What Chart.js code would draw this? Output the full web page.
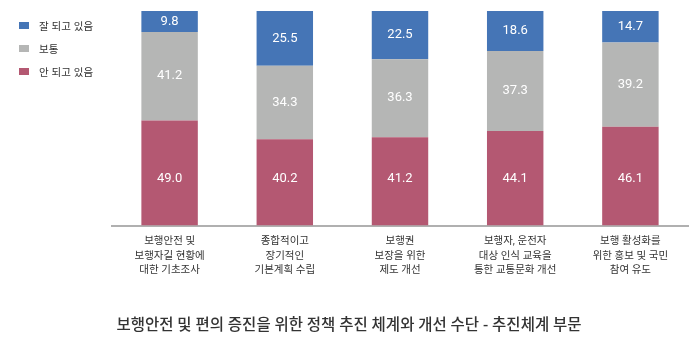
<!DOCTYPE html>
<html lang="ko">
<head>
<meta charset="utf-8">
<script src="https://cdn.jsdelivr.net/npm/chart.js@4.4.1/dist/chart.umd.min.js"></script>
<style>
  html, body { margin: 0; padding: 0; background: #fff; }
  #wrap { position: relative; width: 700px; height: 348px; }
  #legend { position: absolute; left: 19px; top: 14px; margin: 0; padding: 0; list-style: none;
            font: 10.5px "Noto Sans CJK KR", sans-serif; color: #333; }
  #legend li { display: flex; align-items: center; height: 23px; }
  #legend span { display: inline-block; width: 10px; height: 7px; margin-right: 10px; }
</style>
</head>
<body>
<div id="wrap">
  <canvas id="chart" width="700" height="348"></canvas>
  <ul id="legend"></ul>
</div>
<script>
const categories = [
  ["보행안전 및", "보행자길 현황에", "대한 기초조사"],
  ["종합적이고", "장기적인", "기본계획 수립"],
  ["보행권", "보장을 위한", "제도 개선"],
  ["보행자, 운전자", "대상 인식 교육을", "통한 교통문화 개선"],
  ["보행 활성화를", "위한 홍보 및 국민", "참여 유도"],
]
const goingWell = [9.8, 25.5, 22.5, 18.6, 14.7]
const neutral = [41.2, 34.3, 36.3, 37.3, 39.2]
const notGoingWell = [49.0, 40.2, 41.2, 44.1, 46.1]
const chartTitle = "보행안전 및 편의 증진을 위한 정책 추진 체계와 개선 수단 - 추진체계 부문"

const fontFamily = "Roboto, 'Noto Sans CJK KR', sans-serif"

// white numbers on every stacked segment; the bottom row sits at one height
const segmentLabels = {
  id: "segmentLabels",
  afterDatasetsDraw(chart) {
    const ctx = chart.ctx
    ctx.save()
    ctx.fillStyle = "#fff"
    ctx.font = "13px " + fontFamily
    ctx.textAlign = "center"
    ctx.textBaseline = "middle"
    chart.data.datasets.forEach((ds, i) => {
      chart.getDatasetMeta(i).data.forEach((bar, j) => {
        const y = i === 0 ? bar.base - 47 : (bar.y + bar.base) / 2
        ctx.fillText(ds.data[j].toFixed(1), bar.x, y)
      })
    })
    ctx.restore()
  },
}

const chart = new Chart(document.getElementById("chart"), {
  type: "bar",
  data: {
    labels: categories,
    datasets: [
      { label: "안 되고 있음", data: notGoingWell, backgroundColor: "#b45872" },
      { label: "보통", data: neutral, backgroundColor: "#b5b6b5" },
      { label: "잘 되고 있음", data: goingWell, backgroundColor: "#4575b6" },
    ],
  },
  options: {
    responsive: false,
    animation: false,
    devicePixelRatio: 1,
    datasets: { bar: { categoryPercentage: 1, barPercentage: 0.49 } },
    layout: { padding: { left: 10, right: 12, top: 11, bottom: 0 } },
    plugins: {
      legend: { display: false },
      tooltip: { enabled: false },
      title: {
        display: true,
        position: "bottom",
        text: chartTitle,
        color: "#333",
        font: { family: fontFamily, size: 15.5, weight: "500" },
        padding: { top: 30, bottom: 13 },
      },
    },
    scales: {
      x: {
        stacked: true,
        grid: { display: false, drawTicks: false },
        border: { color: "#b0b0b0", width: 2 },
        ticks: {
          color: "#333",
          font: { family: fontFamily, size: 10.5, lineHeight: 1.36 },
          padding: 9,
          maxRotation: 0,
          autoSkip: false,
        },
      },
      y: {
        stacked: true,
        min: 0,
        max: 100,
        grid: { display: false },
        border: { display: false },
        ticks: { display: false },
        // empty strip left of the bars, where the legend sits
        afterFit(scale) { scale.width = 102 },
      },
    },
  },
  plugins: [segmentLabels],
})

// legend from the chart's own legend items, top segment first
const legendEl = document.getElementById("legend")
chart.options.plugins.legend.labels.generateLabels(chart).reverse().forEach(item => {
  const li = document.createElement("li")
  const box = document.createElement("span")
  box.style.background = item.fillStyle
  li.appendChild(box)
  li.appendChild(document.createTextNode(item.text))
  legendEl.appendChild(li)
})
</script>
</body>
</html>
